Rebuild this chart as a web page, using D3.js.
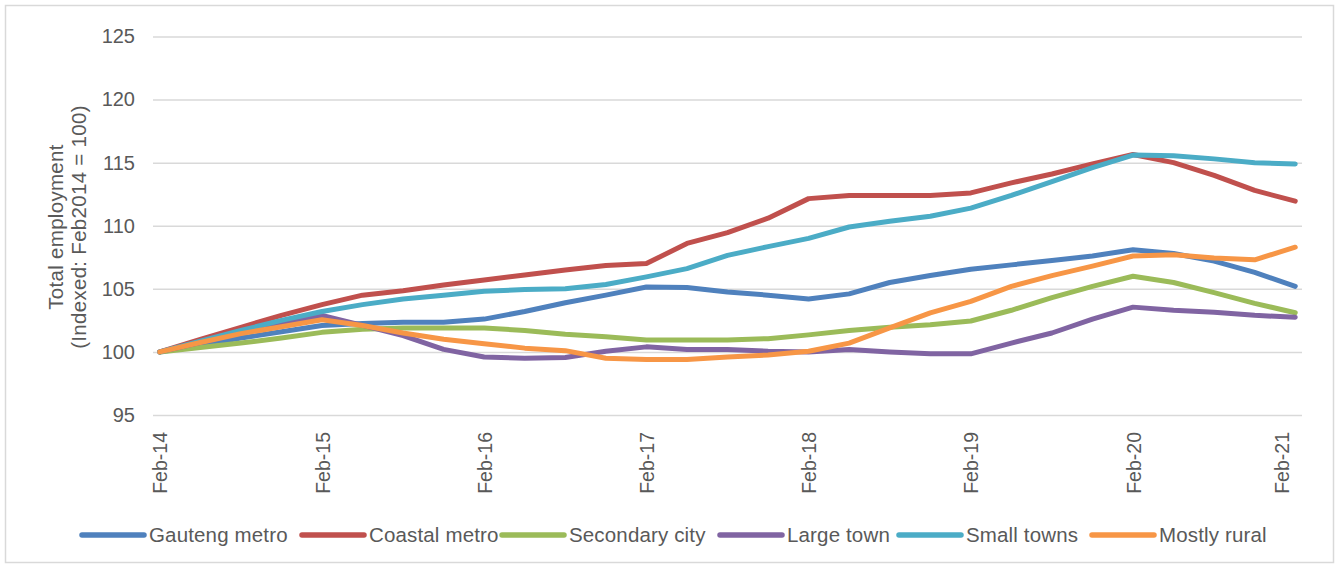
<!DOCTYPE html>
<html>
<head>
<meta charset="utf-8">
<script src="https://cdn.jsdelivr.net/npm/d3@7"></script>
<style>
  html, body { margin: 0; padding: 0; background: #ffffff; }
  svg { display: block; font-family: "Liberation Sans", Arial, sans-serif; }
</style>
</head>
<body>
<svg id="chart" width="1341" height="569"></svg>
<script>
// Month offsets from Feb-2014 (quarterly observations)
const monthOffsets = [0, 3, 6, 9, 12, 15, 18, 21, 24, 27, 30, 33, 36, 39, 42, 45, 48, 51, 54, 57, 60, 63, 66, 69, 72, 75, 78, 81, 84];

// Category axis labels, one per February
const tickMonths = [0, 12, 24, 36, 48, 60, 72, 84];
const tickLabels = ["Feb-14", "Feb-15", "Feb-16", "Feb-17", "Feb-18", "Feb-19", "Feb-20", "Feb-21"];
const yTicks = [95, 100, 105, 110, 115, 120, 125];

const seriesNames = ["Gauteng metro", "Coastal metro", "Secondary city", "Large town", "Small towns", "Mostly rural"];
const seriesColors = ["#4F81BD", "#C0504D", "#9BBB59", "#8064A2", "#4BACC6", "#F79646"];

// Total employment, indexed Feb2014 = 100
const gautengMetro  = [100, 100.55, 101.1, 101.6, 102.1, 102.25, 102.35, 102.35, 102.6, 103.2, 103.9, 104.5, 105.15, 105.1, 104.75, 104.5, 104.2, 104.6, 105.5, 106.05, 106.55, 106.9, 107.25, 107.6, 108.1, 107.8, 107.2, 106.3, 105.2];
const coastalMetro  = [100, 101.0, 101.95, 102.9, 103.75, 104.5, 104.85, 105.3, 105.7, 106.1, 106.5, 106.85, 107.0, 108.6, 109.45, 110.6, 112.15, 112.4, 112.4, 112.4, 112.6, 113.4, 114.1, 114.9, 115.65, 115.0, 114.0, 112.8, 111.95];
const secondaryCity = [100, 100.35, 100.7, 101.1, 101.55, 101.8, 101.9, 101.9, 101.9, 101.7, 101.4, 101.2, 100.95, 100.95, 100.95, 101.05, 101.35, 101.7, 101.95, 102.15, 102.45, 103.3, 104.3, 105.2, 106.0, 105.5, 104.7, 103.85, 103.1];
const largeTown     = [100, 100.75, 101.5, 102.2, 102.9, 102.1, 101.3, 100.2, 99.6, 99.5, 99.55, 100.05, 100.4, 100.2, 100.2, 100.05, 100.0, 100.2, 100.0, 99.85, 99.85, 100.7, 101.5, 102.6, 103.55, 103.3, 103.15, 102.9, 102.75];
const smallTowns    = [100, 100.85, 101.7, 102.5, 103.2, 103.75, 104.2, 104.5, 104.8, 104.95, 105.0, 105.35, 105.95, 106.6, 107.65, 108.35, 109.0, 109.9, 110.35, 110.75, 111.4, 112.4, 113.5, 114.6, 115.6, 115.55, 115.3, 115.0, 114.9];
const mostlyRural   = [100, 100.75, 101.45, 102.0, 102.55, 102.1, 101.5, 101.0, 100.65, 100.3, 100.1, 99.5, 99.4, 99.4, 99.6, 99.75, 100.05, 100.7, 101.9, 103.1, 104.0, 105.2, 106.05, 106.8, 107.6, 107.7, 107.45, 107.3, 108.3];

const seriesValues = [gautengMetro, coastalMetro, secondaryCity, largeTown, smallTowns, mostlyRural];

const svg = d3.select("#chart");
const textColor = "#595959";
const gridColor = "#d9d9d9";

// Outer chart frame
svg.append("rect")
  .attr("x", 5.5).attr("y", 5.5)
  .attr("width", 1328).attr("height", 557)
  .attr("fill", "#ffffff")
  .attr("stroke", gridColor)
  .attr("stroke-width", 1.5);

const plot = { left: 153, right: 1302, top: 36.5, bottom: 415 };

const x = d3.scaleLinear().domain([-0.5, 84.5]).range([plot.left, plot.right]);
const y = d3.scaleLinear().domain([95, 125]).range([plot.bottom, plot.top]);

// Value axis with horizontal gridlines
const yAxis = svg.append("g")
  .attr("transform", `translate(${plot.left},0)`)
  .call(d3.axisLeft(y).tickValues(yTicks).tickSize(-(plot.right - plot.left)).tickPadding(18));
yAxis.select(".domain").remove();
yAxis.selectAll(".tick line").attr("stroke", gridColor).attr("stroke-width", 1.5);
yAxis.selectAll(".tick text")
  .attr("fill", textColor)
  .style("font-size", "20px")
  .style("font-family", "'Liberation Sans', Arial, sans-serif");

// Category axis with rotated labels
const xAxis = svg.append("g")
  .attr("transform", `translate(0,${plot.bottom})`)
  .call(d3.axisBottom(x).tickValues(tickMonths).tickFormat((d, i) => tickLabels[i]).tickSize(0));
xAxis.select(".domain").remove();
xAxis.selectAll(".tick text")
  .attr("fill", textColor)
  .style("font-size", "19.5px")
  .style("font-family", "'Liberation Sans', Arial, sans-serif")
  .attr("text-anchor", "end")
  .attr("transform", "rotate(-90)")
  .attr("x", -17)
  .attr("y", 0)
  .attr("dy", "0.36em");
// Last label is pulled inside the plot edge
xAxis.selectAll(".tick").filter((d, i) => i === tickMonths.length - 1)
  .select("text").attr("y", -14);

// Axis title
const titleLines = ["Total employment", "(Indexed: Feb2014 = 100)"];
svg.selectAll(".ytitle")
  .data(titleLines)
  .join("text")
  .attr("class", "ytitle")
  .attr("transform", (d, i) => `translate(${63 + i * 23},227) rotate(-90)`)
  .attr("text-anchor", "middle")
  .attr("fill", textColor)
  .style("font-size", "20.5px")
  .style("letter-spacing", "0.3px")
  .text(d => d);

// Series lines
const line = d3.line()
  .x((d, i) => x(monthOffsets[i]))
  .y(d => y(d));

svg.append("g")
  .selectAll("path")
  .data(seriesValues)
  .join("path")
  .attr("d", d => line(d))
  .attr("fill", "none")
  .attr("stroke", (d, i) => seriesColors[i])
  .attr("stroke-width", 5)
  .attr("stroke-linejoin", "round")
  .attr("stroke-linecap", "round");

// Legend
const legendX = [80, 300, 500, 718, 897, 1090];
const legendY = 535;
const legend = svg.append("g")
  .selectAll("g")
  .data(seriesNames)
  .join("g")
  .attr("transform", (d, i) => `translate(${legendX[i]},${legendY})`);
legend.append("line")
  .attr("x1", 2).attr("x2", 64)
  .attr("y1", 0).attr("y2", 0)
  .attr("stroke", (d, i) => seriesColors[i])
  .attr("stroke-width", 5.5)
  .attr("stroke-linecap", "round");
legend.append("text")
  .attr("x", 69)
  .attr("y", 0)
  .attr("dy", "0.36em")
  .attr("fill", textColor)
  .style("font-size", "20.5px")
  .style("letter-spacing", "0.15px")
  .text(d => d);
</script>
</body>
</html>
